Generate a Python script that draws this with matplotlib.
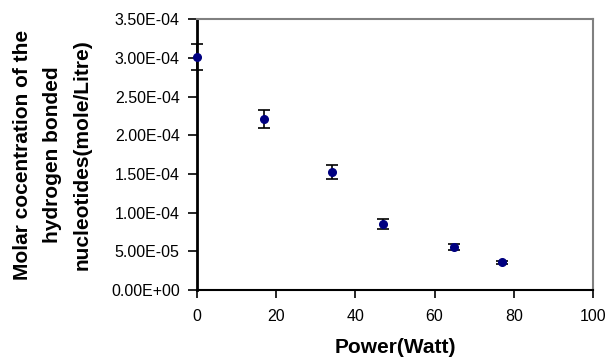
import matplotlib.pyplot as plt
import numpy as np
from matplotlib.ticker import FuncFormatter

# Data
power = [0, 17, 34, 47, 65, 77]
conc = [3.01e-4, 2.21e-4, 1.53e-4, 0.856e-4, 0.555e-4, 0.362e-4]
conc_err = [0.165e-4, 0.12e-4, 0.09e-4, 0.06e-4, 0.035e-4, 0.02e-4]

yticks = np.arange(0, 3.51e-4, 0.5e-4)
xticks = [0, 20, 40, 60, 80, 100]

plt.rcParams['font.family'] = ['Liberation Sans', 'DejaVu Sans']

fig = plt.figure(figsize=(6.09, 3.6), dpi=100)
ax = fig.add_axes([0.3235, 0.194, 0.650, 0.753])

ax.errorbar(power, conc, yerr=conc_err, fmt='o', color='#000080', ms=5.5,
            ecolor='black', elinewidth=1.2, capsize=4, capthick=1.2,
            clip_on=False, zorder=4)


def sci_fmt(v, pos):
    if v == 0:
        return "0.00E+00"
    e = int(np.floor(np.log10(v) + 1e-9))
    return "%.2fE-%02d" % (v / 10 ** e, -e)


ax.set_xlim(0, 100)
ax.set_ylim(0, 3.5e-4)
ax.set_xticks(xticks)
ax.set_yticks(yticks)
ax.yaxis.set_major_formatter(FuncFormatter(sci_fmt))

ax.tick_params(axis='y', direction='out', length=6.5, width=1.2, labelsize=11.5, pad=6)
ax.tick_params(axis='x', direction='out', length=5.5, width=1.2, labelsize=11.5, pad=8)

ax.spines['left'].set_linewidth(2)
ax.spines['bottom'].set_linewidth(1.5)
for s in ('top', 'right'):
    ax.spines[s].set_color('#808080')
    ax.spines[s].set_linewidth(1.5)

ax.set_xlabel("Power(Watt)", fontsize=15, fontweight='bold', labelpad=10)
ax.set_ylabel("Molar cocentration of the\nhydrogen bonded\nnucleotides(mole/Litre)",
              fontsize=15, fontweight='bold', labelpad=14, linespacing=1.7)

fig.savefig("out.png", dpi=100)
